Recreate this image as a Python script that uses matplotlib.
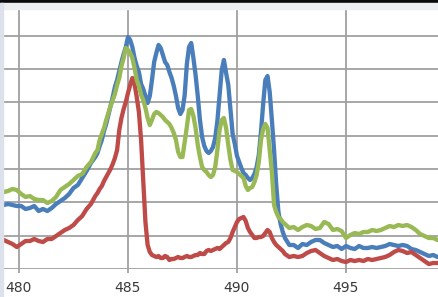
import numpy as np
import matplotlib
matplotlib.use('Agg')
from matplotlib import pyplot as plt
from matplotlib.patches import Rectangle

# wavelength sampling (nm): coarse on the flat parts, finer across the peaks
wavelength = np.concatenate([
    np.linspace(479.3, 483.5, 22),
    np.linspace(483.6, 492.2, 87),
    np.linspace(492.4, 499.4, 36),
])

# intensities (arbitrary units, one grid step = 100)
blue_intensity = [
    192, 195, 192, 189, 189, 180, 183, 189, 174, 180, 174, 183, 195, 204, 213, 225, 243, 252, 273, 294, 318, 336,
    348, 369, 387, 414, 435, 462, 489, 516, 546, 567, 594, 621, 645, 666, 696, 687, 666, 633, 609, 591,
    555, 540, 519, 498, 519, 567, 621, 648, 672, 663, 642, 621, 612, 591, 573, 549, 519, 483, 465, 477,
    522, 615, 666, 678, 633, 582, 519, 447, 396, 369, 354, 348, 354, 366, 393, 444, 519, 597, 627, 588,
    552, 477, 405, 375, 339, 321, 303, 288, 282, 273, 267, 273, 285, 306, 342, 411, 495, 567, 579, 531,
    447, 357, 252, 171, 135, 111, 93,
    72, 72, 63, 75, 72, 81, 87, 87, 78, 72, 66, 69, 60, 69, 63, 60, 69, 63, 63, 66,
    63, 66, 69, 75, 72, 69, 72, 69, 60, 57, 51, 45, 39, 42, 36, 36,
]
red_intensity = [
    87, 81, 75, 66, 75, 84, 84, 90, 84, 81, 90, 90, 99, 108, 117, 123, 132, 147, 159, 180, 195, 219,
    228, 240, 249, 264, 276, 288, 300, 315, 333, 357, 417, 453, 480, 501, 528, 552, 573, 555, 516, 471,
    387, 267, 141, 72, 51, 42, 39, 36, 39, 33, 33, 39, 36, 27, 30, 30, 33, 36, 33, 33,
    36, 39, 36, 36, 39, 42, 42, 48, 45, 45, 54, 57, 54, 57, 60, 63, 60, 66, 72, 78,
    81, 93, 111, 126, 141, 150, 153, 156, 144, 123, 111, 102, 93, 93, 96, 96, 99, 108, 117, 111,
    93, 81, 72, 66, 60, 54, 45,
    36, 39, 36, 39, 48, 54, 57, 48, 39, 33, 27, 30, 24, 21, 27, 24, 27, 24, 30, 27,
    30, 33, 36, 42, 51, 57, 54, 48, 51, 42, 33, 24, 15, 18, 18, 18,
]
green_intensity = [
    231, 234, 240, 237, 225, 216, 219, 210, 207, 207, 198, 204, 216, 237, 246, 255, 267, 279, 285, 306, 321, 348,
    357, 387, 405, 423, 447, 468, 489, 507, 525, 552, 573, 609, 633, 663, 657, 648, 633, 603, 567, 549,
    522, 507, 483, 453, 432, 447, 465, 471, 468, 462, 456, 447, 441, 435, 423, 408, 387, 351, 336, 336,
    381, 426, 477, 480, 459, 423, 372, 336, 306, 297, 291, 282, 276, 282, 306, 357, 417, 447, 453, 423,
    372, 327, 297, 294, 291, 285, 279, 273, 249, 237, 243, 246, 261, 282, 321, 387, 420, 435, 423, 357,
    291, 192, 171, 156, 150, 141, 135,
    123, 126, 117, 126, 132, 129, 120, 123, 141, 135, 117, 120, 114, 93, 102, 108, 105, 111, 111, 117,
    114, 117, 123, 129, 126, 132, 129, 132, 126, 117, 105, 99, 93, 93, 87, 87,
]
x_ticks = [480, 485, 490, 495]

fig = plt.figure(figsize=(4.39, 2.97), dpi=100)
fig.patch.set_facecolor('white')

# screenshot frame: black strip on top, light bands round the plot
fig.patches.append(Rectangle((0, 1 - 3 / 297), 1, 3 / 297, transform=fig.transFigure,
                             color='#0a0a0a', zorder=0))
fig.patches.append(Rectangle((0, 1 - 9 / 297), 1, 6 / 297, transform=fig.transFigure,
                             color='#eceef2', zorder=0))
fig.patches.append(Rectangle((0, 0), 3 / 439, 1 - 3 / 297, transform=fig.transFigure,
                             color='#dde1ec', zorder=0))

ax = fig.add_axes([3 / 439, 28 / 297, 436 / 439, 260 / 297])

ax.plot(wavelength, blue_intensity, color='#4a7ebb', linewidth=3.1, solid_joinstyle='round')
ax.plot(wavelength, red_intensity, color='#be4b48', linewidth=3.1, solid_joinstyle='round')
ax.plot(wavelength, green_intensity, color='#98b954', linewidth=3.1, solid_joinstyle='round')

ax.set_xlim(480 - 16 / 21.8, 480 + 420 / 21.8)
ax.set_ylim(0, 780)
ax.set_xticks(x_ticks)
ax.set_yticks(range(0, 800, 100))
ax.set_yticklabels([])
ax.grid(True, color='#a0a0a0', linewidth=1.3)
ax.set_axisbelow(True)
for spine in ax.spines.values():
    spine.set_visible(False)
ax.tick_params(axis='x', length=3, width=1.3, color='#a0a0a0', pad=5.5,
               labelsize=10, labelcolor='#3a3a3a')
ax.tick_params(axis='y', length=0)

fig.savefig('out.png', dpi=100)
